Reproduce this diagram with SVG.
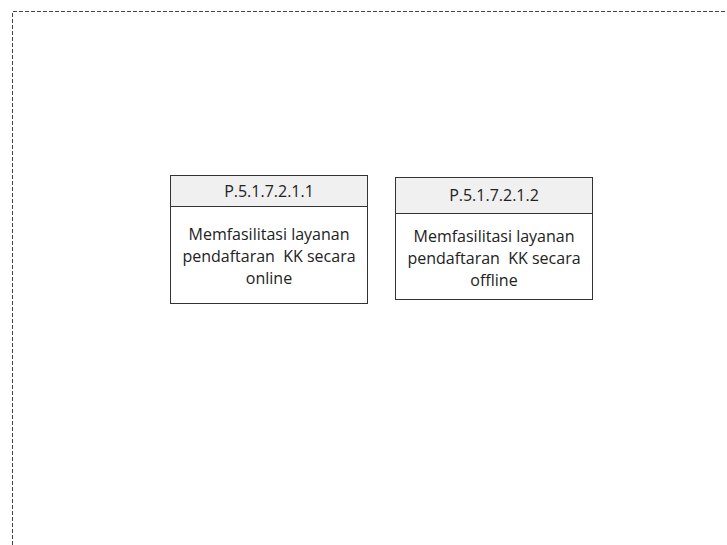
<svg xmlns="http://www.w3.org/2000/svg" width="727" height="545" viewBox="0 0 727 545">
<style>
.frame{fill:none;stroke:#444;stroke-width:1;stroke-dasharray:4 2}
.box{fill:#fff;stroke:#333;stroke-width:1}
.hdr{fill:#f0f0f0;stroke:#333;stroke-width:1}
text{font-family:"Open Sans","Liberation Sans",sans-serif;font-size:16px;fill:#222;text-anchor:middle}
</style>
<rect width="727" height="545" fill="#fff"/>
<path class="frame" d="M12.5,545 V11.5 H727"/>
<g id="node1">
<rect class="box" x="170.5" y="175.5" width="197" height="128"/>
<rect class="hdr" x="170.5" y="175.5" width="197" height="31"/>
<text x="269" y="197">P.5.1.7.2.1.1</text>
<text x="269" y="240">Memfasilitasi layanan</text>
<text x="269" y="262">pendaftaran&#160; KK secara</text>
<text x="269" y="284">online</text>
</g>
<g id="node2">
<rect class="box" x="395.5" y="177.5" width="197" height="122"/>
<rect class="hdr" x="395.5" y="177.5" width="197" height="36"/>
<text x="494" y="201">P.5.1.7.2.1.2</text>
<text x="494" y="242">Memfasilitasi layanan</text>
<text x="494" y="264">pendaftaran&#160; KK secara</text>
<text x="494" y="286">offline</text>
</g>
<g id="connectors"/>
</svg>
